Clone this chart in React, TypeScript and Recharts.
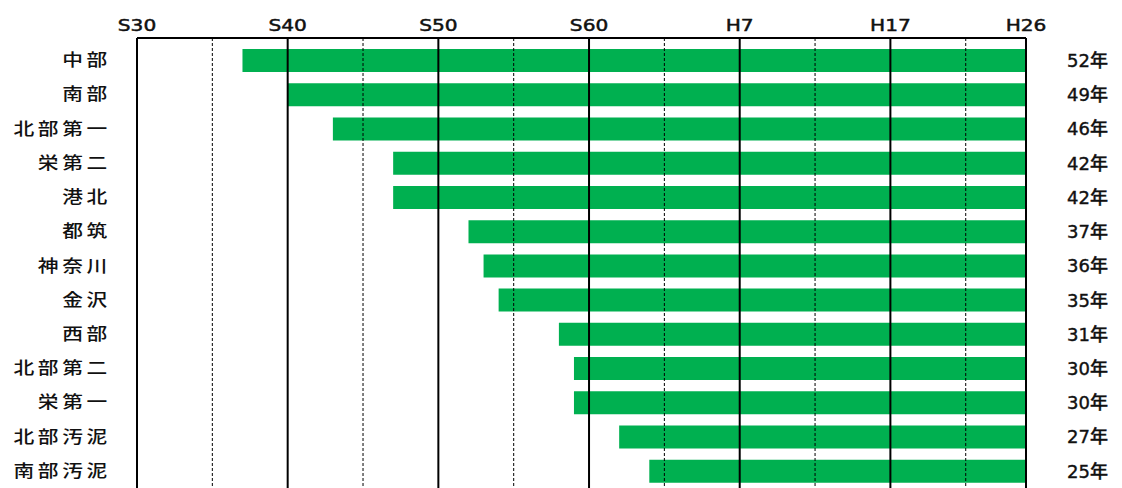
import { Bar, BarChart, LabelList, ReferenceLine, XAxis, YAxis } from "recharts";

// 施設名と経過年数（H26時点）
const plants = ["中部", "南部", "北部第一", "栄第二", "港北", "都筑", "神奈川", "金沢", "西部", "北部第二", "栄第一", "北部汚泥", "南部汚泥"];
const ages = [52, 49, 46, 42, 42, 37, 36, 35, 31, 30, 30, 27, 25];

// 目盛り（西暦）と和暦ラベル
const tickYears = [1955, 1965, 1975, 1985, 1995, 2005, 2014];
const tickLabels = ["S30", "S40", "S50", "S60", "H7", "H17", "H26"];
const midYears = [1960, 1970, 1980, 1990, 2000, 2010];
const baseYear = 2014;

const data = plants.map((name, i) => ({
  name,
  age: ages[i],
  span: [baseYear - ages[i], baseYear],
}));

const font = "'DejaVu Sans', 'Noto Sans CJK JP', sans-serif";
const textColor = "#111";

// 横に少し引き伸ばした文字で描く
function YearTick({ x, y, payload }: any) {
  const label = tickLabels[tickYears.indexOf(payload.value)];
  return (
    <g transform={`translate(${x},${y})`}>
      <text
        transform="scale(1.22,1)"
        textAnchor="middle"
        fontSize={16.5}
        fontFamily={font}
        fill={textColor}
        stroke={textColor}
        strokeWidth={0.5}
      >
        {label}
      </text>
    </g>
  );
}

function PlantTick({ x, y, payload }: any) {
  return (
    <g transform={`translate(${x},${y})`}>
      <text
        transform="scale(1.22,1)"
        textAnchor="end"
        dy={6}
        fontSize={17}
        fontFamily={font}
        fontWeight={500}
        letterSpacing={3}
        fill={textColor}
      >
        {payload.value}
      </text>
    </g>
  );
}

export default function App() {
  return (
    <div style={{ position: "absolute", left: 0, top: 0, width: 1122, height: 488, background: "#fff" }}>
      <BarChart
        width={1122}
        height={488}
        data={data}
        layout="vertical"
        margin={{ top: 0, right: 96, left: 0, bottom: 0 }}
      >
        <XAxis
          type="number"
          orientation="top"
          domain={[1955, baseYear]}
          ticks={tickYears}
          height={38}
          tickLine={false}
          tickSize={0}
          tickMargin={7}
          axisLine={{ stroke: "#000", strokeWidth: 2 }}
          tick={<YearTick />}
          interval={0}
        />
        <YAxis
          type="category"
          dataKey="name"
          width={137}
          padding={{ top: 5, bottom: 0 }}
          tickLine={false}
          tickSize={0}
          tickMargin={26}
          axisLine={{ stroke: "#000", strokeWidth: 2 }}
          tick={<PlantTick />}
          interval={0}
        />
        <Bar dataKey="span" fill="#00b050" barSize={23} isAnimationActive={false}>
          <LabelList
            dataKey="age"
            position="right"
            offset={41}
            formatter={(v: number) => `${v}年`}
            style={{ fill: textColor, stroke: textColor, strokeWidth: 0.4, fontSize: 18, fontFamily: font, fontWeight: 500 }}
          />
        </Bar>
        {midYears.map((y) => (
          <ReferenceLine key={`m${y}`} x={y} stroke="#000" strokeWidth={1} strokeDasharray="3 2" />
        ))}
        {tickYears.slice(1).map((y) => (
          <ReferenceLine key={`t${y}`} x={y} stroke="#000" strokeWidth={2} />
        ))}
      </BarChart>
    </div>
  );
}
